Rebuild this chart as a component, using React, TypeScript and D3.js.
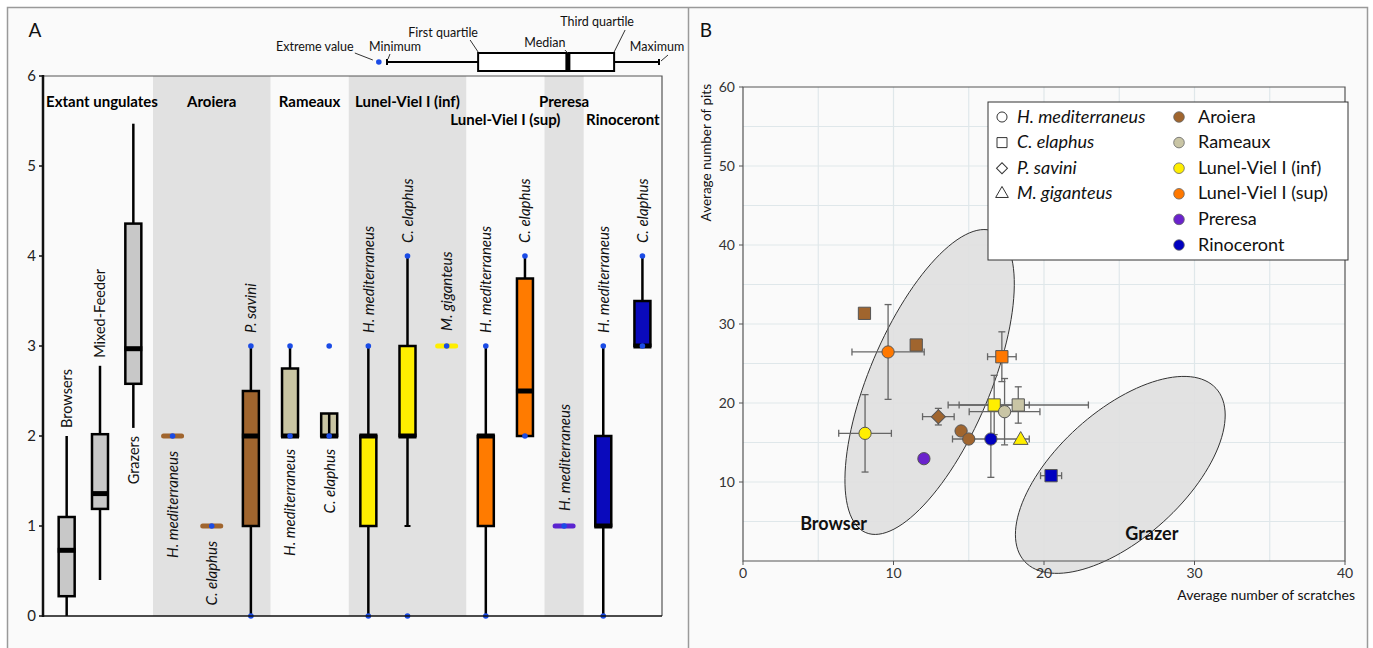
import React from 'react';
import * as d3 from 'd3';

const FONT = 'Lato, "Open Sans", "DejaVu Sans", sans-serif';

// ---------------- Panel A data ----------------
const extantCats = ['Browsers', 'Mixed-Feeder', 'Grazers'];
const extantMin = [0, 0.4, 2.09];
const extantQ1 = [0.22, 1.19, 2.58];
const extantMed = [0.73, 1.36, 2.97];
const extantQ3 = [1.1, 2.02, 4.36];
const extantMax = [2.0, 2.78, 5.47];
const extantLabelSide = ['above', 'above', 'below'];

const fossilSites = [
  'Aroiera', 'Aroiera', 'Aroiera',
  'Rameaux', 'Rameaux',
  'Lunel-Viel I (inf)', 'Lunel-Viel I (inf)', 'Lunel-Viel I (inf)',
  'Lunel-Viel I (sup)', 'Lunel-Viel I (sup)',
  'Preresa',
  'Rinoceront', 'Rinoceront',
];
const fossilSpecies = [
  'H. mediterraneus', 'C. elaphus', 'P. savini',
  'H. mediterraneus', 'C. elaphus',
  'H. mediterraneus', 'C. elaphus', 'M. giganteus',
  'H. mediterraneus', 'C. elaphus',
  'H. mediterraneus',
  'H. mediterraneus', 'C. elaphus',
];
const fossilMin = [2, 1, 0, 2, 2, 0, 1, 3, 0, 2, 1, 0, 3];
const fossilQ1 = [2, 1, 1, 2, 2, 1, 2, 3, 1, 2, 1, 1, 3];
const fossilMed = [2, 1, 2, 2, 2, 2, 2, 3, 2, 2.5, 1, 1, 3];
const fossilQ3 = [2, 1, 2.5, 2.75, 2.25, 2, 3, 3, 2, 3.75, 1, 2, 3.5];
const fossilMax = [2, 1, 3, 3, 2.25, 3, 4, 3, 3, 4, 1, 3, 4];
const fossilExtremes = [[2], [1], [0, 3], [2, 3], [2, 3], [0, 3], [0, 4], [3], [0, 3], [2, 4], [1], [0, 3], [3, 4]];
const fossilLabelSide = ['below', 'below', 'above', 'below', 'below', 'above', 'above', 'above', 'above', 'above', 'above', 'above', 'above'];

const siteOrder = ['Aroiera', 'Rameaux', 'Lunel-Viel I (inf)', 'Lunel-Viel I (sup)', 'Preresa', 'Rinoceront'];
const siteShaded = [true, false, true, false, true, false];
const siteLabelRow = [0, 0, 0, 1, 0, 1];
const siteColors = ['#a0652e', '#c9c5a2', '#ffee00', '#ff7b00', '#5b24d0', '#0a0abc'];
const scatterSiteColors = ['#a0652e', '#c9c5a5', '#ffee00', '#ff7800', '#6a22cc', '#0000c0'];

const yTicksA = [0, 1, 2, 3, 4, 5, 6];

const schematicNames = ['Extreme value', 'Minimum', 'First quartile', 'Median', 'Third quartile', 'Maximum'];
const schematicStats = [-0.03, 0, 0.335, 0.665, 0.835, 1];

// ---------------- Panel B data ----------------
const pointSite = [
  'Aroiera', 'Aroiera', 'Lunel-Viel I (sup)', 'Lunel-Viel I (sup)', 'Lunel-Viel I (inf)',
  'Aroiera', 'Aroiera', 'Aroiera', 'Lunel-Viel I (inf)', 'Rameaux',
  'Rameaux', 'Rinoceront', 'Lunel-Viel I (inf)', 'Preresa', 'Rinoceront',
];
const pointSpecies = [
  'C. elaphus', 'C. elaphus', 'H. mediterraneus', 'C. elaphus', 'H. mediterraneus',
  'P. savini', 'H. mediterraneus', 'H. mediterraneus', 'C. elaphus', 'H. mediterraneus',
  'C. elaphus', 'H. mediterraneus', 'M. giganteus', 'H. mediterraneus', 'C. elaphus',
];
const pointScratches = [8.07, 11.51, 9.64, 17.2, 8.11, 12.98, 14.49, 15.0, 16.69, 17.38, 18.29, 16.47, 18.45, 12.02, 20.47];
const pointPits = [31.35, 27.34, 26.46, 25.86, 16.16, 18.27, 16.46, 15.44, 19.75, 18.9, 19.75, 15.44, 15.3, 12.95, 10.8];
const pointScratchErr = [0, 0, 2.4, 0.95, 1.75, 1.05, 0, 0, 2.33, 2.35, 4.66, 2.55, 0, 0, 0.7];
const pointPitErr = [0, 0, 6.0, 3.15, 4.9, 1.05, 0, 0, 3.75, 4.2, 2.3, 4.85, 0, 0, 0];

const speciesOrder = ['H. mediterraneus', 'C. elaphus', 'P. savini', 'M. giganteus'];

const ellipseNames = ['Browser', 'Grazer'];
const ellipseCenter = [[12.4, 22.66], [25.07, 10.9]];
const ellipseMajor = [[4.24, 19.07], [6.36, 10.95]];
const ellipseMinor = [[3.7, -2.96], [2.85, -5.96]];
const ellipseLabelPos = [[3.8, 3.9], [25.4, 2.7]];

const xTicksB = [0, 10, 20, 30, 40];
const yTicksB = [0, 10, 20, 30, 40, 50, 60];
const gridB = [5, 10, 15, 20, 25, 30, 35, 40, 45, 50, 55];

const DOT = '#1a4be6';

function symbolPath(species: string, size: number) {
  const idx = speciesOrder.indexOf(species);
  const types = [d3.symbolCircle, d3.symbolSquare, d3.symbolSquare, d3.symbolTriangle];
  return d3.symbol().type(types[idx]).size(size)() as string;
}
function symbolRotate(species: string) {
  return species === 'P. savini' ? 45 : 0;
}
function symbolSize(species: string) {
  return species === 'H. mediterraneus' ? 118 : species === 'C. elaphus' ? 150 : species === 'P. savini' ? 100 : 95;
}

export default function App() {
  // ---------- Panel A scales ----------
  const yA = d3.scaleLinear().domain([0, 6]).range([616, 76]);
  const xExtant = d3.scaleBand<string>().domain(extantCats).range([50, 150]);
  const fossilKeys = fossilSpecies.map((s, i) => `${fossilSites[i]}|${s}|${i}`);
  const xFossil = d3.scaleBand<string>().domain(fossilKeys).range([153, 662]);
  const plotA = { left: 43, right: 662, top: 76, bottom: 616 };
  const boxHalf = 8;

  const groups = siteOrder.map((site, gi) => {
    const idx = fossilSites.map((s, i) => (s === site ? i : -1)).filter((i) => i >= 0);
    const x0 = xFossil(fossilKeys[idx[0]])!;
    const x1 = xFossil(fossilKeys[idx[idx.length - 1]])! + xFossil.bandwidth();
    return { site, x0, x1, shaded: siteShaded[gi], row: siteLabelRow[gi] };
  });

  const boxes: any[] = [];
  extantCats.forEach((c, i) => {
    boxes.push({
      x: xExtant(c)! + xExtant.bandwidth() / 2,
      min: extantMin[i], q1: extantQ1[i], med: extantMed[i], q3: extantQ3[i], max: extantMax[i],
      extremes: [], color: '#c8c8c8', label: c, italic: false, side: extantLabelSide[i], extant: true,
    });
  });
  fossilKeys.forEach((k, i) => {
    boxes.push({
      x: xFossil(k)! + xFossil.bandwidth() / 2,
      min: fossilMin[i], q1: fossilQ1[i], med: fossilMed[i], q3: fossilQ3[i], max: fossilMax[i],
      extremes: fossilExtremes[i], color: siteColors[siteOrder.indexOf(fossilSites[i])],
      label: fossilSpecies[i], italic: true, side: fossilLabelSide[i], extant: false,
    });
  });

  const schem = d3.scaleLinear().domain([0, 1]).range([387, 659]);
  const schemY = 62;
  const schemLayout = [
    { tx: -64, ty: 51, l: [-24, 53, -6, 60] },
    { tx: 8, ty: 51, l: [3, 54, 1, 59] },
    { tx: -35, ty: 37, l: [-8, 40, 0, 52] },
    { tx: -23, ty: 47, l: [-3, 50, 0, 53] },
    { tx: -17, ty: 26, l: [11, 30, 0, 52] },
    { tx: -2, ty: 51, l: [9, 55, 2, 61] },
  ];

  // ---------- Panel B scales ----------
  const xB = d3.scaleLinear().domain([0, 40]).range([743, 1345]);
  const yB = d3.scaleLinear().domain([0, 60]).range([561, 87]);

  const ellipsePaths = ellipseNames.map((_, e) => {
    const ts = d3.range(0, 120).map((k) => (k / 120) * Math.PI * 2);
    const line = d3.line<number>()
      .x((t) => xB(ellipseCenter[e][0] + Math.cos(t) * ellipseMajor[e][0] + Math.sin(t) * ellipseMinor[e][0]))
      .y((t) => yB(ellipseCenter[e][1] + Math.cos(t) * ellipseMajor[e][1] + Math.sin(t) * ellipseMinor[e][1]))
      .curve(d3.curveLinearClosed);
    return line(ts) as string;
  });

  const cap = 3.5;
  const legendB = { x: 988, y: 102, w: 360, h: 158 };
  const rowH = 25.6;

  return (
    <svg width={1373} height={648} style={{ position: 'absolute', left: 0, top: 0, display: 'block' }} fontFamily={FONT}>
      <rect x={0} y={0} width={1373} height={648} fill="#ffffff" />
      <rect x={8} y={8} width={680} height={660} fill="#fafafa" />
      <rect x={689} y={8} width={678} height={660} fill="#fafafa" />
      <path d="M7.5,660V7.5H1367.5V660M688.5,7.5V660" fill="none" stroke="#9a9a9a" strokeWidth={1.5} />

      {/* ================= Panel A ================= */}
      <text x={35} y={37} fontSize={19} textAnchor="middle" fill="#111">A</text>

      {groups.filter((g) => g.shaded).map((g) => (
        <rect key={g.site} x={g.x0} y={plotA.top} width={g.x1 - g.x0} height={plotA.bottom - plotA.top} fill="#e1e1e1" />
      ))}
      <path d={`M${plotA.left},${plotA.top}H${plotA.right}V${plotA.bottom}`} fill="none" stroke="#555" strokeWidth={1.2} />

      {/* group labels */}
      <text x={(plotA.left + 153) / 2 + 4} y={107} fontSize={15} fontWeight="bold" textAnchor="middle">Extant ungulates</text>
      {groups.map((g) => (
        <text key={g.site} x={(g.x0 + g.x1) / 2} y={g.row === 0 ? 107 : 125} fontSize={15} fontWeight="bold" textAnchor="middle">{g.site}</text>
      ))}

      {/* boxes */}
      {boxes.map((b, i) => {
        const single = b.min === b.max;
        const top = yA(b.q3), bot = yA(b.q1);
        const hasDot = (v: number) => b.extremes.includes(v);
        const thin = b.q3 - b.q1 <= 0.25 && !single;
        const labelTopVal = Math.max(b.max, ...(b.extremes.length ? b.extremes : [b.max]));
        const gap = b.extant ? 8 : single ? 15 : 13;
        const ly = b.side === 'above' ? yA(labelTopVal) - gap : yA(b.min) + gap;
        return (
          <g key={i}>
            {single ? (
              <line x1={b.x - 9} x2={b.x + 9} y1={yA(b.min)} y2={yA(b.min)} stroke={b.color} strokeWidth={5} strokeLinecap="round" />
            ) : (
              <>
                <line x1={b.x} x2={b.x} y1={yA(b.min)} y2={yA(b.q1)} stroke="#000" strokeWidth={2.5} />
                <line x1={b.x} x2={b.x} y1={yA(b.q3)} y2={yA(b.max)} stroke="#000" strokeWidth={2.5} />
                {!b.extant && !hasDot(b.min) && b.min < b.q1 && (
                  <line x1={b.x - 3} x2={b.x + 3} y1={yA(b.min)} y2={yA(b.min)} stroke="#000" strokeWidth={2} />
                )}
                <rect x={b.x - boxHalf} y={top} width={boxHalf * 2} height={bot - top} fill={b.color} stroke="#000" strokeWidth={2.5} />
                {thin && <line x1={b.x} x2={b.x} y1={top} y2={bot} stroke="#000" strokeWidth={2.5} />}
                <line x1={b.x - boxHalf - 1} x2={b.x + boxHalf + 1} y1={yA(b.med)} y2={yA(b.med)} stroke="#000" strokeWidth={5} />
              </>
            )}
            {b.extremes.map((v: number, j: number) => (
              <circle key={j} cx={b.x} cy={yA(v)} r={2.8} fill={DOT} />
            ))}
            <text
              transform={`translate(${b.x},${ly}) rotate(-90)`}
              dy="0.36em"
              textAnchor={b.side === 'above' ? 'start' : 'end'}
              fontSize={b.italic ? 15 : 14.5}
              fontStyle={b.italic ? 'italic' : 'normal'}
              fill="#111"
            >
              {b.label}
            </text>
          </g>
        );
      })}

      {/* y axis A */}
      <line x1={plotA.left} x2={plotA.right} y1={plotA.bottom} y2={plotA.bottom} stroke="#111" strokeWidth={1.5} />
      <line x1={plotA.left} x2={plotA.left} y1={plotA.top - 1} y2={plotA.bottom + 1} stroke="#111" strokeWidth={2.5} />
      {yTicksA.map((t) => (
        <g key={t}>
          <line x1={plotA.left - 4} x2={plotA.left} y1={yA(t)} y2={yA(t)} stroke="#111" strokeWidth={1.5} />
          <text x={plotA.left - 7} y={yA(t) + 5} fontSize={15} textAnchor="end" fill="#222">{t}</text>
        </g>
      ))}

      {/* schematic legend */}
      <g>
        <line x1={schem(schematicStats[1])} x2={schem(schematicStats[2])} y1={schemY} y2={schemY} stroke="#000" strokeWidth={2} />
        <line x1={schem(schematicStats[4])} x2={schem(schematicStats[5])} y1={schemY} y2={schemY} stroke="#000" strokeWidth={2} />
        <line x1={schem(schematicStats[1])} x2={schem(schematicStats[1])} y1={schemY - 3} y2={schemY + 3} stroke="#000" strokeWidth={2} />
        <line x1={schem(schematicStats[5])} x2={schem(schematicStats[5])} y1={schemY - 3} y2={schemY + 3} stroke="#000" strokeWidth={2} />
        <rect x={schem(schematicStats[2])} y={schemY - 9} width={schem(schematicStats[4]) - schem(schematicStats[2])} height={18} fill="#fff" stroke="#000" strokeWidth={2} />
        <line x1={schem(schematicStats[3])} x2={schem(schematicStats[3])} y1={schemY - 9} y2={schemY + 9} stroke="#000" strokeWidth={5} />
        <circle cx={schem(schematicStats[0])} cy={schemY} r={2.8} fill={DOT} />
        {schematicNames.map((n, i) => {
          const px = schem(schematicStats[i]);
          const L = schemLayout[i];
          return (
            <g key={n}>
              <text x={px + L.tx} y={L.ty} fontSize={12.5} textAnchor="middle" fill="#111">{n}</text>
              <line x1={px + L.l[0]} y1={L.l[1]} x2={px + L.l[2]} y2={L.l[3]} stroke="#333" strokeWidth={1} />
            </g>
          );
        })}
      </g>

      {/* ================= Panel B ================= */}
      <text x={706} y={37} fontSize={19} textAnchor="middle" fill="#111">B</text>

      {gridB.filter((g) => g < 40).map((g) => (
        <line key={'v' + g} x1={xB(g)} x2={xB(g)} y1={yB(60)} y2={yB(0)} stroke="#dfe7ea" strokeWidth={1.2} />
      ))}
      {gridB.map((g) => (
        <line key={'h' + g} x1={xB(0)} x2={xB(40)} y1={yB(g)} y2={yB(g)} stroke="#dfe7ea" strokeWidth={1.2} />
      ))}

      {ellipsePaths.map((d, e) => (
        <path key={e} d={d} fill="#e0e0e0" fillOpacity={0.92} stroke="#333" strokeWidth={1} />
      ))}

      <path d={`M${xB(0)},${yB(60)}H${xB(40)}V${yB(0)}H${xB(0)}Z`} fill="none" stroke="#555" strokeWidth={1.2} />
      {xTicksB.map((t) => (
        <g key={t}>
          <line x1={xB(t)} x2={xB(t)} y1={yB(0)} y2={yB(0) + 4} stroke="#555" />
          <text x={xB(t)} y={yB(0) + 17} fontSize={14} textAnchor="middle" fill="#333">{t}</text>
        </g>
      ))}
      {yTicksB.filter((t) => t > 0).map((t) => (
        <g key={t}>
          <line x1={xB(0) - 4} x2={xB(0)} y1={yB(t)} y2={yB(t)} stroke="#555" />
          <text x={xB(0) - 8} y={yB(t) + 5} fontSize={14} textAnchor="end" fill="#333">{t}</text>
        </g>
      ))}
      <text x={1355} y={600} fontSize={14} textAnchor="end" fill="#111">Average number of scratches</text>
      <text transform={`translate(711,84) rotate(-90)`} fontSize={13.5} textAnchor="end" fill="#111">Average number of pits</text>

      {ellipseNames.map((n, e) => (
        <text key={n} x={xB(ellipseLabelPos[e][0])} y={yB(ellipseLabelPos[e][1])} fontSize={18} fontWeight="bold" fill="#111">{n}</text>
      ))}

      {/* error bars */}
      {pointSite.map((s, i) => {
        const cx = xB(pointScratches[i]);
        const cy = yB(pointPits[i]);
        return (
          <g key={'e' + i} stroke="#666" strokeWidth={1.3}>
            {pointScratchErr[i] > 0 && (
              <>
                <line x1={xB(pointScratches[i] - pointScratchErr[i])} x2={xB(pointScratches[i] + pointScratchErr[i])} y1={cy} y2={cy} />
                <line x1={xB(pointScratches[i] - pointScratchErr[i])} x2={xB(pointScratches[i] - pointScratchErr[i])} y1={cy - cap} y2={cy + cap} />
                <line x1={xB(pointScratches[i] + pointScratchErr[i])} x2={xB(pointScratches[i] + pointScratchErr[i])} y1={cy - cap} y2={cy + cap} />
              </>
            )}
            {pointPitErr[i] > 0 && (
              <>
                <line x1={cx} x2={cx} y1={yB(pointPits[i] - pointPitErr[i])} y2={yB(pointPits[i] + pointPitErr[i])} />
                <line x1={cx - cap} x2={cx + cap} y1={yB(pointPits[i] - pointPitErr[i])} y2={yB(pointPits[i] - pointPitErr[i])} />
                <line x1={cx - cap} x2={cx + cap} y1={yB(pointPits[i] + pointPitErr[i])} y2={yB(pointPits[i] + pointPitErr[i])} />
              </>
            )}
          </g>
        );
      })}

      {/* markers */}
      {pointSite.map((s, i) => (
        <path
          key={'m' + i}
          d={symbolPath(pointSpecies[i], symbolSize(pointSpecies[i]))}
          transform={`translate(${xB(pointScratches[i])},${yB(pointPits[i])}) rotate(${symbolRotate(pointSpecies[i])})`}
          fill={scatterSiteColors[siteOrder.indexOf(s)]}
          stroke="#555"
          strokeWidth={1}
        />
      ))}

      {/* legend B */}
      <rect x={legendB.x} y={legendB.y} width={legendB.w} height={legendB.h} fill="#fff" stroke="#333" strokeWidth={1} />
      {speciesOrder.map((sp, i) => {
        const cy = legendB.y + 14 + i * rowH;
        return (
          <g key={sp}>
            <path
              d={symbolPath(sp, sp === 'H. mediterraneus' ? 80 : sp === 'C. elaphus' ? 100 : sp === 'P. savini' ? 60 : 70)}
              transform={`translate(${legendB.x + 14},${cy + 1}) rotate(${symbolRotate(sp)})`}
              fill="#fff" stroke="#333" strokeWidth={1}
            />
            <text x={legendB.x + 29} y={cy + 6.5} fontSize={18} fontStyle="italic" fill="#111">{sp}</text>
          </g>
        );
      })}
      {siteOrder.map((site, i) => {
        const cy = legendB.y + 14 + i * rowH;
        return (
          <g key={site}>
            <circle cx={legendB.x + 191} cy={cy + 1} r={5.3} fill={scatterSiteColors[i]} stroke="#666" strokeWidth={0.8} />
            <text x={legendB.x + 210} y={cy + 6.5} fontSize={18} fill="#111">{site}</text>
          </g>
        );
      })}
    </svg>
  );
}
